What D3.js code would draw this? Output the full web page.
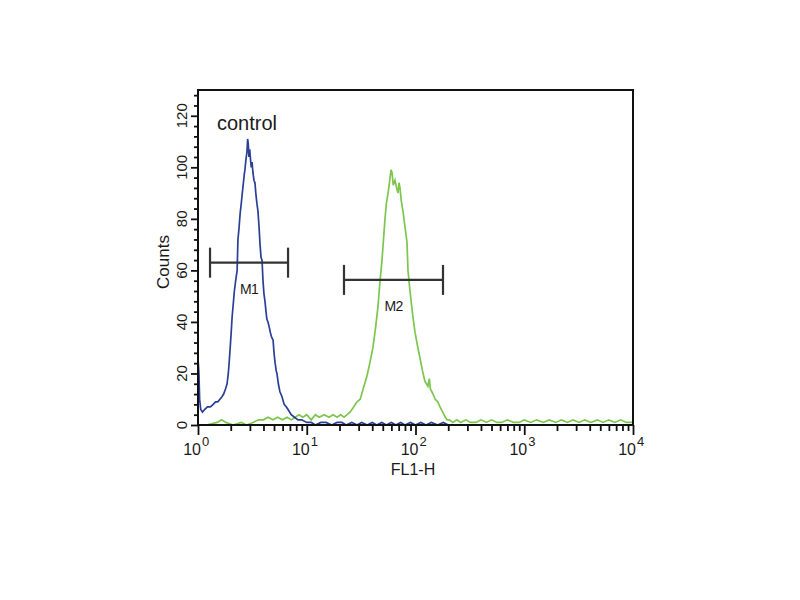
<!DOCTYPE html>
<html>
<head>
<meta charset="utf-8">
<script src="https://cdn.jsdelivr.net/npm/d3@7"></script>
<style>
  body { margin: 0; background: #fff; }
  text { font-family: "Liberation Sans", Arial, sans-serif; fill: #1a1a1a; }
</style>
</head>
<body>
<div id="chart"></div>
<script>
// FL1-H value, counts (control = blue, sample = green)
const controlCurve = [
  [1.00, 26], [1.02, 20], [1.035, 10], [1.06, 6], [1.10, 5], [1.15, 6], [1.22, 7], [1.30, 7],
  [1.38, 8], [1.45, 9], [1.52, 9], [1.59, 10], [1.66, 11], [1.72, 12], [1.79, 14], [1.85, 16],
  [1.90, 20], [1.94, 25], [1.97, 29], [2.02, 36], [2.06, 42], [2.10, 46], [2.16, 52], [2.22, 56],
  [2.29, 60], [2.33, 72], [2.38, 76], [2.44, 82], [2.50, 86], [2.54, 89], [2.60, 93], [2.66, 97],
  [2.70, 99], [2.76, 103], [2.82, 106], [2.86, 111], [2.90, 109], [2.94, 104], [2.99, 107], [3.04, 103],
  [3.09, 100], [3.14, 102], [3.20, 98], [3.27, 95], [3.34, 94], [3.40, 90], [3.48, 86], [3.56, 83],
  [3.64, 77], [3.72, 70], [3.80, 65], [3.88, 64], [3.96, 56], [4.04, 51], [4.13, 48], [4.22, 44],
  [4.30, 41], [4.40, 40], [4.52, 38], [4.62, 36], [4.76, 34], [4.90, 33], [5.00, 28], [5.12, 24],
  [5.24, 21], [5.32, 20], [5.48, 16], [5.66, 13], [5.92, 11], [6.20, 8], [6.50, 7], [6.73, 6],
  [7.20, 4], [7.70, 3], [8.32, 2], [9.0, 2], [10, 1], [11, 1], [12, 0], [13.5, 1], [15, 1], [17, 0],
  [19, 1], [21, 1], [23, 0], [26, 1], [29, 0], [32, 1], [36, 0], [40, 1], [44, 0], [49, 1], [54, 0],
  [60, 1], [66, 0], [73, 1], [80, 0], [90, 1], [100, 0], [112, 1], [125, 0], [140, 1], [160, 0],
  [180, 1], [200, 0], [230, 0]
];

const sampleCurve = [
  [1.00, 0], [1.2, 0], [1.5, 1], [1.65, 2], [1.8, 1], [2.1, 0], [2.5, 1], [2.8, 0], [3.2, 1], [3.6, 2],
  [4.0, 2], [4.4, 3], [4.9, 2], [5.4, 3], [6.0, 2], [6.6, 3], [7.2, 2], [7.8, 3], [8.5, 4], [9.2, 3],
  [10, 4], [11, 2], [12, 4], [13, 3], [14.5, 4], [16, 3], [17.5, 4], [19, 3], [20.5, 4], [22, 3],
  [23.5, 4], [25, 5], [27, 7], [29, 9], [31, 10], [33, 14], [35.8, 19], [38, 24], [40.6, 30], [43, 38],
  [45.2, 46], [47, 55], [49.2, 64], [51, 73], [52.4, 80], [54, 86], [55.9, 90], [58, 95], [59.5, 99],
  [60.8, 98], [62.5, 93], [64.8, 95], [67, 92], [69, 90], [70.5, 94], [72, 92], [74, 87], [76.7, 83],
  [80, 77], [83.5, 71], [85.3, 60], [89, 52], [92.9, 45], [96, 40], [99, 36], [104, 31], [110, 26],
  [116, 21], [122, 17], [126, 16], [130, 15], [134, 18], [137, 14], [141, 13], [145, 12], [152, 10],
  [160, 9], [168, 7], [178, 5], [188, 3], [195, 2], [205, 2], [220, 1], [240, 2], [260, 1], [290, 2],
  [320, 1], [360, 1], [400, 2], [450, 1], [500, 2], [560, 1], [620, 1], [700, 2], [800, 1], [900, 1],
  [1000, 2], [1150, 1], [1300, 2], [1500, 1], [1700, 2], [1950, 1], [2200, 2], [2500, 1], [2800, 2],
  [3200, 1], [3600, 2], [4100, 1], [4700, 2], [5300, 1], [6000, 2], [6800, 1], [7700, 2], [8700, 1],
  [9800, 1]
];

// marker gates: name, from, to, counts level
const markers = [
  { name: "M1", from: 1.29, to: 6.73, level: 63 },
  { name: "M2", from: 22.0, to: 179, level: 56.3 }
];

const yMajorTicks = [0, 20, 40, 60, 80, 100, 120];
const yMinorTicks = [4, 8, 12, 16, 24, 28, 32, 36, 44, 48, 52, 56, 64, 68, 72, 76, 84, 88, 92, 96, 104, 108, 112, 116, 124, 128];
const xDecades = [0, 1, 2, 3, 4];
const xMinorTicks = [2, 3, 4, 5, 6, 7, 8, 9, 20, 30, 40, 50, 60, 70, 80, 90,
  200, 300, 400, 500, 600, 700, 800, 900, 2000, 3000, 4000, 5000, 6000, 7000, 8000, 9000];

const width = 800, height = 600;
const plotLeft = 198, plotRight = 633, plotTop = 90, plotBottom = 425;

const svg = d3.select("#chart").append("svg").attr("width", width).attr("height", height);

const x = d3.scaleLog().domain([1, 10000]).range([plotLeft, plotRight]);
const y = d3.scaleLinear().domain([0, 130]).range([plotBottom, plotTop]);

svg.append("clipPath").attr("id", "plot-clip")
  .append("rect").attr("x", plotLeft).attr("y", plotTop)
  .attr("width", plotRight - plotLeft).attr("height", plotBottom - plotTop);

// axes ticks
const xMinor = svg.append("g").attr("transform", `translate(0,${plotBottom})`)
  .call(d3.axisBottom(x).tickValues(xMinorTicks).tickSize(6).tickFormat(""));
const xMajor = svg.append("g").attr("transform", `translate(0,${plotBottom})`)
  .call(d3.axisBottom(x).tickValues(xDecades.map(d => Math.pow(10, d))).tickSize(10).tickFormat(""));
const yMinor = svg.append("g").attr("transform", `translate(${plotLeft},0)`)
  .call(d3.axisLeft(y).tickValues(yMinorTicks).tickSize(4).tickFormat(""));
const yMajor = svg.append("g").attr("transform", `translate(${plotLeft},0)`)
  .call(d3.axisLeft(y).tickValues(yMajorTicks).tickSize(7).tickFormat(""));

[xMinor, xMajor, yMinor, yMajor].forEach(g => {
  g.select(".domain").remove();
  g.selectAll(".tick line").attr("stroke", "#111").attr("stroke-width", 1.8);
});

// x tick labels 10^n
svg.append("g").selectAll("text").data(xDecades).enter().append("text")
  .attr("x", d => x(Math.pow(10, d)) + 3)
  .attr("y", 455)
  .attr("text-anchor", "end")
  .attr("font-size", "16px")
  .text("10");
svg.append("g").selectAll("text").data(xDecades).enter().append("text")
  .attr("x", d => x(Math.pow(10, d)) + 4)
  .attr("y", 446)
  .attr("font-size", "13px")
  .text(d => d);

// y tick labels rotated
svg.append("g").selectAll("text").data(yMajorTicks).enter().append("text")
  .attr("transform", d => `translate(187,${y(d)}) rotate(-90)`)
  .attr("text-anchor", "middle")
  .attr("font-size", "15px")
  .text(d => d);

// axis titles
svg.append("text")
  .attr("transform", "translate(169,262) rotate(-90)")
  .attr("text-anchor", "middle")
  .attr("font-size", "17px")
  .text("Counts");
svg.append("text")
  .attr("x", 413).attr("y", 475)
  .attr("text-anchor", "middle")
  .attr("font-size", "16px")
  .text("FL1-H");

// histograms
const line = d3.line().x(d => x(d[0])).y(d => y(d[1]));
const plot = svg.append("g").attr("clip-path", "url(#plot-clip)");
plot.append("path").datum(sampleCurve)
  .attr("fill", "none").attr("stroke", "#7cc64e").attr("stroke-width", 1.7)
  .attr("d", line);
plot.append("path").datum(controlCurve)
  .attr("fill", "none").attr("stroke", "#2a3f96").attr("stroke-width", 1.7)
  .attr("d", line);

// markers
const mk = svg.append("g").selectAll("g").data(markers).enter().append("g");
mk.append("line")
  .attr("x1", d => x(d.from)).attr("x2", d => x(d.to))
  .attr("y1", d => y(d.level)).attr("y2", d => y(d.level))
  .attr("stroke", "#333").attr("stroke-width", 2.2);
mk.append("line")
  .attr("x1", d => x(d.from)).attr("x2", d => x(d.from))
  .attr("y1", d => y(d.level) - 15).attr("y2", d => y(d.level) + 15)
  .attr("stroke", "#333").attr("stroke-width", 2.2);
mk.append("line")
  .attr("x1", d => x(d.to)).attr("x2", d => x(d.to))
  .attr("y1", d => y(d.level) - 15).attr("y2", d => y(d.level) + 15)
  .attr("stroke", "#333").attr("stroke-width", 2.2);
mk.append("text")
  .attr("x", d => (x(d.from) + x(d.to)) / 2)
  .attr("y", d => y(d.level) + 31)
  .attr("text-anchor", "middle")
  .attr("font-size", "14px")
  .attr("letter-spacing", "-0.8px")
  .text(d => d.name);

// frame
svg.append("rect")
  .attr("x", plotLeft).attr("y", plotTop)
  .attr("width", plotRight - plotLeft).attr("height", plotBottom - plotTop)
  .attr("fill", "none").attr("stroke", "#111").attr("stroke-width", 2);

// legend text
svg.append("text")
  .attr("x", 217).attr("y", 130)
  .attr("font-size", "20px")
  .text("control");
</script>
</body>
</html>
